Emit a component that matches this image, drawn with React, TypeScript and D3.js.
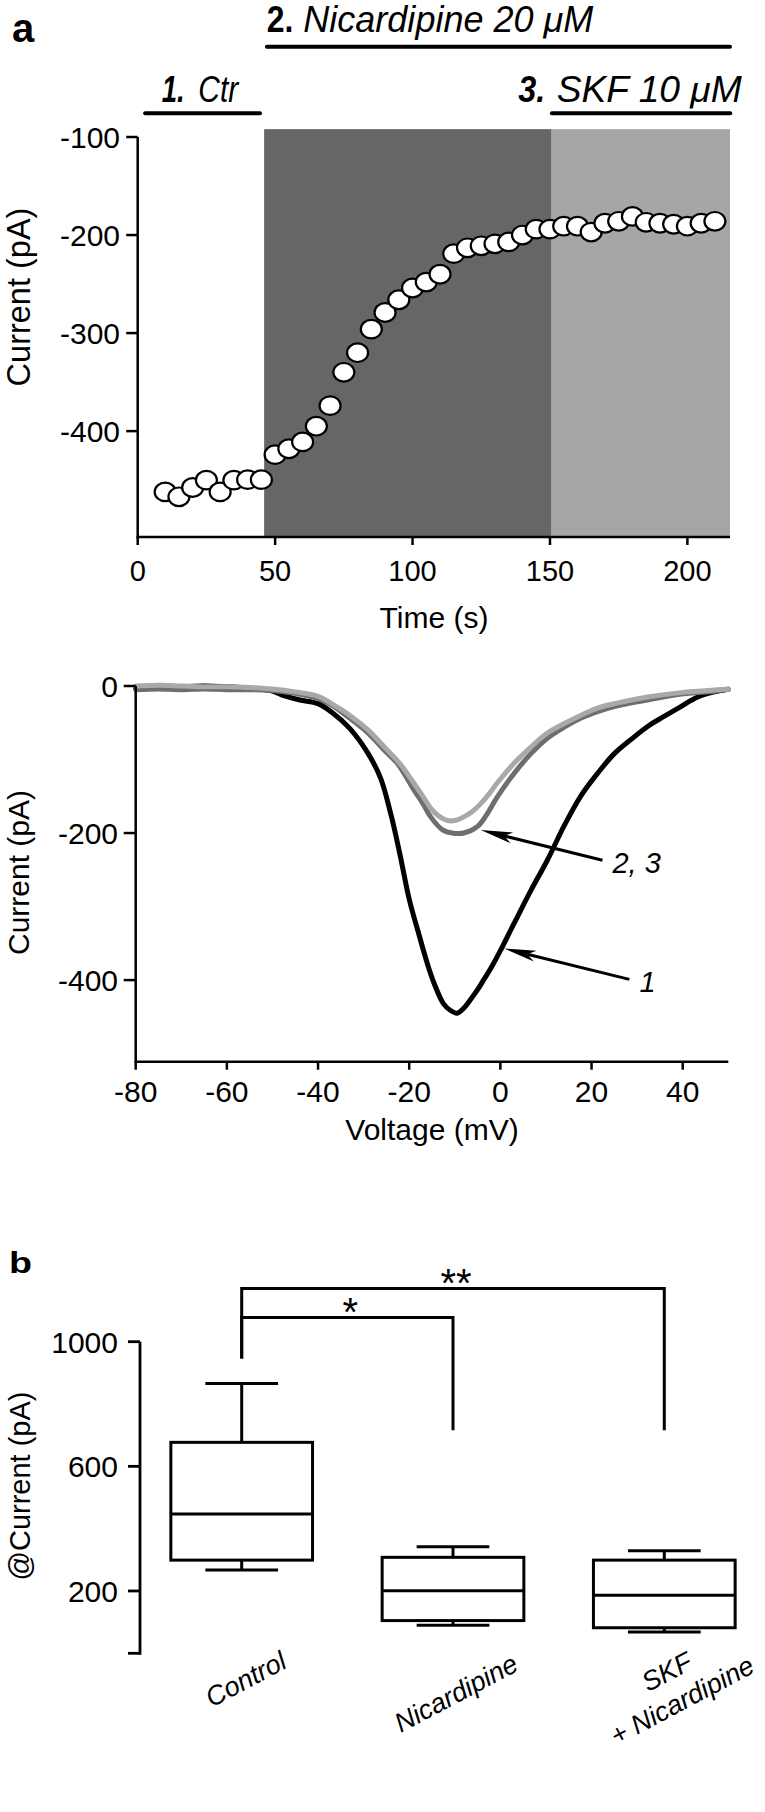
import React from "react";
import * as d3 from "d3";

// ---------- Panel a (top): time course ----------
const timeS = [10, 15, 20, 25, 30, 35, 40, 45, 50, 55, 60, 65, 70, 75, 80, 85, 90, 95, 100, 105, 110, 115, 120, 125, 130, 135, 140, 145, 150, 155, 160, 165, 170, 175, 180, 185, 190, 195, 200, 205, 210];
const currentPA = [-462, -467, -457.5, -450, -462, -450, -449.5, -449.5, -424, -418, -411, -395, -374, -340, -320, -296, -279, -266, -254, -248, -240, -219, -213, -211, -209, -207, -200, -194, -194, -191, -191, -197, -188, -186, -181, -187, -188, -189, -191, -188, -186];

const periodNumbers = ["1.", "2.", "3."];
const periodNames = ["Ctr", "Nicardipine 20 μM", "SKF 10 μM"];
const periodStart = [2.7, 47, 150.7];
const periodEnd = [44.5, 215.5, 215.6];

const shadeStart = [46, 150.6];
const shadeEnd = [150.6, 215.5];

const timeTicks = [0, 50, 100, 150, 200];
const currentTicks = [-100, -200, -300, -400];

// ---------- Panel a (bottom): I-V traces ----------
const ivV1 = [-80, -75, -70, -65, -60, -55, -50, -47.5, -44, -40, -36.5, -33, -29, -26.3, -24, -22, -20, -18, -16, -14.5, -12.5, -11, -9.5, -8, -6.5, -5, -3.5, -2, 0, 3, 6.7, 10.3, 14, 17.6, 21.3, 25, 28.6, 32.3, 36, 39.6, 43.3, 47, 50];
const ivI1 = [-3, -2, -1, 0, -1, -3, -7, -13, -19, -24, -38, -58, -92, -125, -175, -230, -290, -335, -378, -405, -432, -441, -445, -438, -426, -413, -398, -383, -360, -323, -278, -237, -190, -150, -119, -92, -73, -55, -41, -28, -15, -8, -4.5];

const ivV2 = [-80, -75, -70, -65, -60, -55, -50, -45, -40, -36.5, -33, -29, -25.5, -22.5, -19, -17, -15.3, -12.6, -10.6, -8, -5, -3, -0.7, 3, 6.7, 10.3, 14, 17.6, 21.3, 25, 32.3, 39.6, 47, 50];
const ivI2 = [-5, -4, -5, -4, -5, -5, -6, -10, -17, -28, -44, -64, -87, -106, -141, -160, -178, -196, -200, -200, -191, -175, -151, -119, -92, -71, -56, -44, -35, -28, -19, -11, -7, -4.5];

const ivV3 = [-80, -75, -70, -65, -60, -55, -50, -45, -40, -36.5, -33, -29, -25.6, -22, -19, -17, -15.3, -13.5, -11.6, -10, -8, -6, -4.3, -2.5, -0.7, 3, 6.7, 10.3, 14, 17.6, 21.3, 25, 32.3, 39.6, 47, 50];
const ivI3 = [0, 1, 0, -1, -1, -2, -4, -8, -14, -26, -40, -60, -82, -106, -132, -150, -166, -177, -183, -183, -178, -170, -160, -147, -132, -105, -83, -64, -51, -40, -30, -24, -15, -9, -5.5, -4.5];

const voltageTicks = [-80, -60, -40, -20, 0, 20, 40];
const ivCurrentTicks = [0, -200, -400];

const traceLabels = ["2, 3", "1"];
const arrowTailV = [22.4, 28.3];
const arrowTailI = [-237, -399];
const arrowTipV = [-4.3, 0.8];
const arrowTipI = [-196, -357];

// ---------- Panel b: box plot ----------
const groups = ["Control", "Nicardipine", "SKF|+ Nicardipine"];
const whiskerLow = [267, 90, 68];
const q1 = [299, 105, 82];
const median = [447, 201, 186];
const q3 = [677, 308, 299];
const whiskerHigh = [866, 342, 329];
const boxTicks = [0, 200, 600, 1000];
const boxTickLabels = ["", "200", "600", "1000"];

const sigFrom = [0, 0];
const sigTo = [1, 2];
const sigLevel = [1078, 1171];
const sigStartDrop = [946, 946];
const sigEndDrop = [716, 716];
const sigLabel = ["*", "**"];

const FF = "'Liberation Sans', Arial, Helvetica, sans-serif";

function Arrow({ x1, y1, x2, y2 }: { x1: number; y1: number; x2: number; y2: number }) {
  const ang = Math.atan2(y2 - y1, x2 - x1);
  const L = 32;
  const W = 5.5;
  const N = 24;
  const ux = Math.cos(ang);
  const uy = Math.sin(ang);
  const px = -uy;
  const py = ux;
  const bx = x2 - ux * L;
  const by = y2 - uy * L;
  const nx = x2 - ux * N;
  const ny = y2 - uy * N;
  const head = `M${x2},${y2} L${bx + px * W},${by + py * W} L${nx},${ny} L${bx - px * W},${by - py * W} Z`;
  return (
    <g>
      <line x1={x1} y1={y1} x2={nx} y2={ny} stroke="#000" strokeWidth={3} />
      <path d={head} fill="#000" />
    </g>
  );
}

export default function App() {
  // scales panel a top
  const xT = d3.scaleLinear().domain([0, 215.5]).range([137.7, 730]);
  const yT = d3.scaleLinear().domain([-508, -100]).range([537, 137]);
  // scales IV
  const xV = d3.scaleLinear().domain([-80, 50]).range([135.7, 728.3]);
  const yV = d3.scaleLinear().domain([-511, 0]).range([1061.7, 686]);
  // scales box
  const xB = d3.scalePoint<string>().domain(groups).range([241.7, 664.3]);
  const yB = d3.scaleLinear().domain([0, 1000]).range([1653.3, 1341.7]);

  const line = d3
    .line<[number, number]>()
    .x((d) => xV(d[0]))
    .y((d) => yV(d[1]))
    .curve(d3.curveCatmullRom.alpha(0.5));

  const traces = [
    { v: ivV1, i: ivI1, color: "#000000", w: 5 },
    { v: ivV2, i: ivI2, color: "#6e6e6e", w: 5 },
    { v: ivV3, i: ivI3, color: "#a9a9a9", w: 5 },
  ];

  // layout of the treatment titles (pixel positions)
  const titleLayout = [
    { numX: 161.7, numLen: 23, nameX: 198.3, nameLen: 40, lineY: 113.3, textY: 101.7, numItalic: true },
    { numX: 266.7, numLen: 26.6, nameX: 303.3, nameLen: 290, lineY: 46.7, textY: 32, numItalic: false },
    { numX: 518.3, numLen: 27, nameX: 556.7, nameLen: 185, lineY: 113.3, textY: 101.7, numItalic: true },
  ];

  const boxW = 141.7;
  const capW = 72.7;
  const labelOffsets = [
    [4, -7],
    [3, 7],
    [10, 0],
  ];

  return (
    <svg
      width={765}
      height={1812}
      viewBox="0 0 765 1812"
      style={{ position: "absolute", left: 0, top: 0, background: "#fff" }}
      fontFamily={FF}
    >
      <rect x={0} y={0} width={765} height={1812} fill="#fff" />

      {/* ===== Panel a top ===== */}
      <text x={12} y={42} fontSize={40} fontWeight="bold">a</text>

      {periodNames.map((name, k) => (
        <g key={"p" + k}>
          <text
            x={titleLayout[k].numX}
            y={titleLayout[k].textY}
            fontSize={36}
            fontWeight="bold"
            fontStyle={titleLayout[k].numItalic ? "italic" : "normal"}
            textLength={titleLayout[k].numLen}
            lengthAdjust="spacingAndGlyphs"
          >
            {periodNumbers[k]}
          </text>
          <text
            x={titleLayout[k].nameX}
            y={titleLayout[k].textY}
            fontSize={36}
            fontStyle="italic"
            textLength={titleLayout[k].nameLen}
            lengthAdjust="spacingAndGlyphs"
          >
            {name}
          </text>
          <line
            x1={xT(periodStart[k])}
            x2={xT(periodEnd[k])}
            y1={titleLayout[k].lineY}
            y2={titleLayout[k].lineY}
            stroke="#000"
            strokeWidth={4}
            strokeLinecap="round"
          />
        </g>
      ))}

      {shadeStart.map((s, k) => (
        <rect
          key={"s" + k}
          x={xT(s)}
          y={yT(-92)}
          width={xT(shadeEnd[k]) - xT(s)}
          height={yT(-508) - yT(-92)}
          fill={k === 0 ? "#666666" : "#a6a6a6"}
        />
      ))}

      {/* axes */}
      <line x1={xT(0)} x2={xT(0)} y1={yT(-100)} y2={yT(-508)} stroke="#000" strokeWidth={2.5} />
      <line x1={xT(0) - 1.2} x2={xT(215.5)} y1={yT(-508)} y2={yT(-508)} stroke="#000" strokeWidth={2.5} />
      {currentTicks.map((t) => (
        <g key={"yt" + t}>
          <line x1={xT(0) - 11.5} x2={xT(0)} y1={yT(t)} y2={yT(t)} stroke="#000" strokeWidth={2.5} />
          <text x={120} y={yT(t)} dy="0.36em" fontSize={30} textAnchor="end">
            {String(t)}
          </text>
        </g>
      ))}
      {timeTicks.map((t) => (
        <g key={"xt" + t}>
          <line x1={xT(t)} x2={xT(t)} y1={yT(-508)} y2={yT(-508) + 8} stroke="#000" strokeWidth={2.5} />
          <text x={xT(t)} y={581} fontSize={29} textAnchor="middle">
            {String(t)}
          </text>
        </g>
      ))}
      <text x={434} y={627.5} fontSize={30} textAnchor="middle">Time (s)</text>
      <text transform="translate(30,297) rotate(-90)" fontSize={32.5} textAnchor="middle">Current (pA)</text>

      {timeS.map((t, k) => (
        <ellipse
          key={"d" + k}
          cx={xT(t)}
          cy={yT(currentPA[k])}
          rx={10.5}
          ry={9.3}
          fill="#fff"
          stroke="#000"
          strokeWidth={2.2}
        />
      ))}

      {/* ===== Panel a bottom: IV ===== */}
      {traces.map((tr, k) => (
        <path
          key={"tr" + k}
          d={line(tr.v.map((v, j) => [v, tr.i[j]] as [number, number])) || ""}
          fill="none"
          stroke={tr.color}
          strokeWidth={tr.w}
          strokeLinejoin="round"
          strokeLinecap="round"
        />
      ))}
      <line x1={xV(-80)} x2={xV(-80)} y1={yV(0)} y2={yV(-511)} stroke="#000" strokeWidth={2.5} />
      <line x1={xV(-80) - 1.2} x2={xV(50)} y1={yV(-511)} y2={yV(-511)} stroke="#000" strokeWidth={2.5} />
      {ivCurrentTicks.map((t) => (
        <g key={"ivy" + t}>
          <line x1={xV(-80) - 12} x2={xV(-80)} y1={yV(t)} y2={yV(t)} stroke="#000" strokeWidth={2.5} />
          <text x={118} y={yV(t)} dy="0.36em" fontSize={30} textAnchor="end">
            {String(t)}
          </text>
        </g>
      ))}
      {voltageTicks.map((t) => (
        <g key={"ivx" + t}>
          <line x1={xV(t)} x2={xV(t)} y1={yV(-511)} y2={yV(-511) + 8} stroke="#000" strokeWidth={2.5} />
          <text x={xV(t)} y={1101.7} fontSize={30} textAnchor="middle">
            {String(t)}
          </text>
        </g>
      ))}
      <text x={432} y={1140} fontSize={30} textAnchor="middle">Voltage (mV)</text>
      <text transform="translate(29,872.5) rotate(-90)" fontSize={30} textAnchor="middle">Current (pA)</text>

      {traceLabels.map((lab, k) => (
        <g key={"ar" + k}>
          <Arrow
            x1={xV(arrowTailV[k])}
            y1={yV(arrowTailI[k])}
            x2={xV(arrowTipV[k])}
            y2={yV(arrowTipI[k])}
          />
          <text
            x={xV(arrowTailV[k]) + 10}
            y={yV(arrowTailI[k]) + 13}
            fontSize={29}
            fontStyle="italic"
          >
            {lab}
          </text>
        </g>
      ))}

      {/* ===== Panel b ===== */}
      <text x={9} y={1272.7} fontSize={30} fontWeight="bold" textLength={23} lengthAdjust="spacingAndGlyphs">b</text>

      <line x1={140} x2={140} y1={yB(1000)} y2={yB(0) + 1.5} stroke="#000" strokeWidth={2.8} />
      {boxTicks.map((t, k) => (
        <g key={"by" + t}>
          <line x1={128} x2={140} y1={yB(t)} y2={yB(t)} stroke="#000" strokeWidth={2.8} />
          {boxTickLabels[k] && (
            <text x={118} y={yB(t)} dy="0.36em" fontSize={30} textAnchor="end">
              {boxTickLabels[k]}
            </text>
          )}
        </g>
      ))}
      <text transform="translate(30,1486) rotate(-90)" fontSize={29} textAnchor="middle">@Current (pA)</text>

      {groups.map((g, k) => {
        const cx = xB(g) as number;
        return (
          <g key={"box" + k} stroke="#000" strokeWidth={3} fill="none">
            <line x1={cx} x2={cx} y1={yB(q3[k])} y2={yB(whiskerHigh[k])} />
            <line x1={cx} x2={cx} y1={yB(q1[k])} y2={yB(whiskerLow[k])} />
            <line x1={cx - capW / 2} x2={cx + capW / 2} y1={yB(whiskerHigh[k])} y2={yB(whiskerHigh[k])} />
            <line x1={cx - capW / 2} x2={cx + capW / 2} y1={yB(whiskerLow[k])} y2={yB(whiskerLow[k])} />
            <rect x={cx - boxW / 2} y={yB(q3[k])} width={boxW} height={yB(q1[k]) - yB(q3[k])} />
            <line x1={cx - boxW / 2} x2={cx + boxW / 2} y1={yB(median[k])} y2={yB(median[k])} />
          </g>
        );
      })}

      {sigLabel.map((lab, k) => {
        const xa = xB(groups[sigFrom[k]]) as number;
        const xb = xB(groups[sigTo[k]]) as number;
        return (
          <g key={"sig" + k}>
            <path
              d={`M${xa},${yB(sigStartDrop[k])} V${yB(sigLevel[k])} H${xb} V${yB(sigEndDrop[k])}`}
              fill="none"
              stroke="#000"
              strokeWidth={3}
            />
            <text x={(xa + xb) / 2 + 3} y={yB(sigLevel[k]) + 9} fontSize={40} textAnchor="middle">
              {lab}
            </text>
          </g>
        );
      })}

      {groups.map((g, k) => {
        const cx = (xB(g) as number) + labelOffsets[k][0];
        const cy = 1686 + labelOffsets[k][1];
        const lines = g.split("|");
        return (
          <text
            key={"lab" + k}
            transform={`translate(${cx},${cy}) rotate(-28)`}
            fontSize={27}
            fontStyle="italic"
            textAnchor="middle"
          >
            {lines.map((ln, j) => (
              <tspan key={j} x={0} dy={j === 0 ? `${0.35 - (lines.length - 1) * 0.6}em` : "1.2em"}>
                {ln}
              </tspan>
            ))}
          </text>
        );
      })}
    </svg>
  );
}
